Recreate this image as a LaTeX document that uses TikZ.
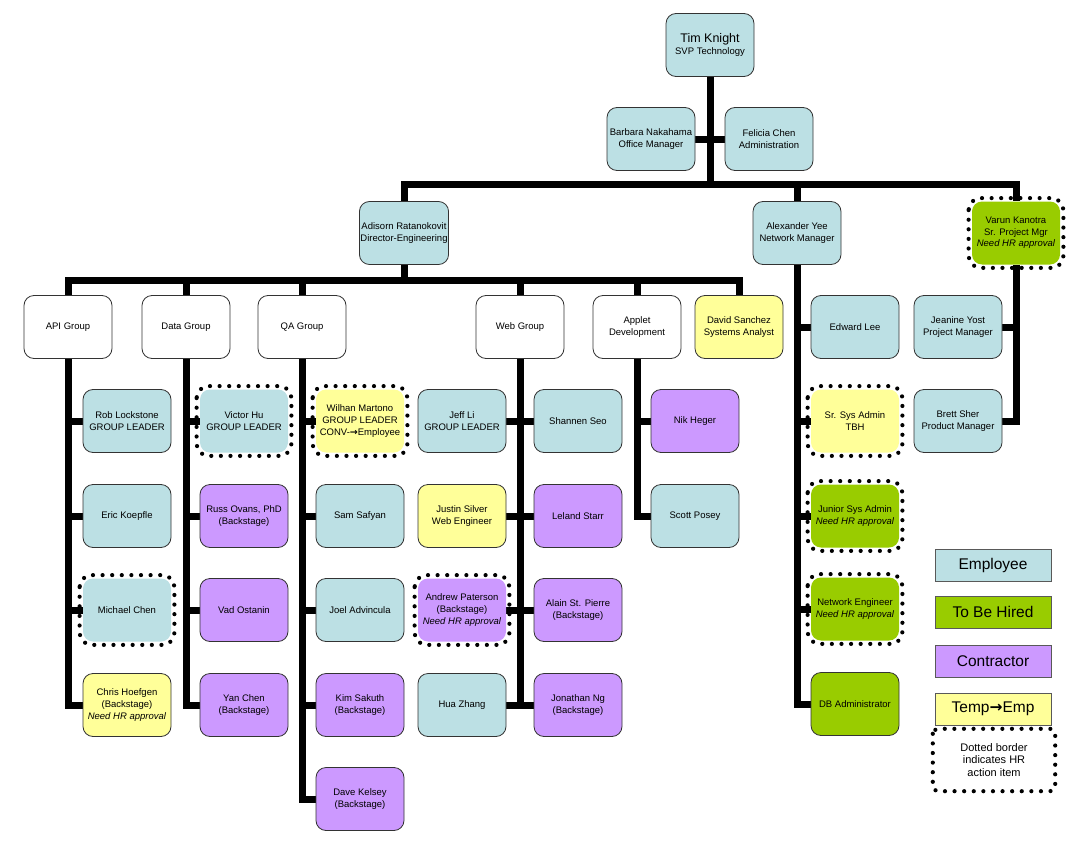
\documentclass[tikz,border=0pt]{standalone}
\usepackage{fontspec}
\setmainfont{Liberation Sans}
\newfontfamily\arrowfont{DejaVu Sans}
\usetikzlibrary{positioning}
\pgfdeclarelayer{bg}
\pgfsetlayers{bg,main}

\definecolor{empcol}{RGB}{188,224,228}
\definecolor{hirecol}{RGB}{153,204,0}
\definecolor{concol}{RGB}{204,153,255}
\definecolor{tempcol}{RGB}{255,255,153}

\newcommand{\toarr}{{\arrowfont\textbf{→}}}

\tikzset{
  box/.style={rectangle, rounded corners=10pt, draw=black!80, line width=0.8pt,
    minimum width=88, minimum height=63, inner sep=1pt, align=center,
    font=\fontsize{9.5}{11.6}\selectfont},
  emp/.style={box, fill=empcol},
  hire/.style={box, fill=hirecol},
  con/.style={box, fill=concol},
  tmp/.style={box, fill=tempcol},
  grp/.style={box, fill=white},
  hr/.style={draw=none},
  hrdots/.style={line width=4.2pt, dash pattern=on 0pt off 9.6pt, line cap=round, rounded corners=12pt},
  bar/.style={line width=7pt},
  legbox/.style={rectangle, draw=black!65, line width=1pt, minimum width=116, minimum height=32,
    inner sep=1pt, font=\fontsize{15.5}{18}\selectfont}
}

\begin{document}
\begin{tikzpicture}[x=1pt,y=-1pt]
\useasboundingbox (0,0) rectangle (1090,843);

% top of the tree
\node[emp] (tim) at (710,45) {{\fontsize{12.5}{15}\selectfont Tim Knight}\\SVP Technology};
\node[emp] (barbara) at (651,139) {Barbara Nakahama\\Office Manager};
\node[emp] (felicia) at (769,139) {Felicia Chen\\Administration};

\node[emp] (adisorn) at (404,233) {Adisorn Ratanokovit\\Director-Engineering};
\node[emp] (alex) at (797,233) {Alexander Yee\\Network Manager};
\node[hire,hr] (varun) at (1016,233) {Varun Kanotra\\Sr. Project Mgr\\\textit{Need HR approval}};

\coordinate (bus1) at (710,184);
\coordinate (bus2) at (404,280);

% groups
\node[grp] (apigrp) at (68,327) {API Group};
\node[grp] (datagrp) at (186,327) {Data Group};
\node[grp] (qagrp) at (302,327) {QA Group};
\node[grp] (webgrp) at (520,327) {Web Group};
\node[grp] (appletgrp) at (637,327) {Applet\\Development};
\node[tmp] (david) at (739,327) {David Sanchez\\Systems Analyst};

% API group
\node[emp] (rob) at (127,421) {Rob Lockstone\\GROUP LEADER};
\node[emp] (eric) at (127,516) {Eric Koepfle};
\node[emp,hr] (michael) at (127,610) {Michael Chen};
\node[tmp] (chris) at (127,705) {Chris Hoefgen\\(Backstage)\\\textit{Need HR approval}};

% Data group
\node[emp,hr] (victor) at (244,421) {Victor Hu\\GROUP LEADER};
\node[con] (russ) at (244,516) {Russ Ovans, PhD\\(Backstage)};
\node[con] (vad) at (244,610) {Vad Ostanin};
\node[con] (yan) at (244,705) {Yan Chen\\(Backstage)};

% QA group
\node[tmp,hr] (wilhan) at (360,421) {Wilhan Martono\\GROUP LEADER\\CONV-\toarr Employee};
\node[emp] (sam) at (360,516) {Sam Safyan};
\node[emp] (joel) at (360,610) {Joel Advincula};
\node[con] (kim) at (360,705) {Kim Sakuth\\(Backstage)};
\node[con] (dave) at (360,799) {Dave Kelsey\\(Backstage)};

% Web group
\node[emp] (jeff) at (462,421) {Jeff Li\\GROUP LEADER};
\node[emp] (shannen) at (578,421) {Shannen Seo};
\node[tmp] (justin) at (462,516) {Justin Silver\\Web Engineer};
\node[con] (leland) at (578,516) {Leland Starr};
\node[con,hr] (andrew) at (462,610) {Andrew Paterson\\(Backstage)\\\textit{Need HR approval}};
\node[con] (alain) at (578,610) {Alain St. Pierre\\(Backstage)};
\node[emp] (hua) at (462,705) {Hua Zhang};
\node[con] (jonathan) at (578,705) {Jonathan Ng\\(Backstage)};

% Applet
\node[con] (nik) at (695,421) {Nik Heger};
\node[emp] (scott) at (695,516) {Scott Posey};

% network
\node[emp] (edward) at (855,327) {Edward Lee};
\node[tmp,hr] (srsys) at (855,421) {Sr. Sys Admin\\TBH};
\node[hire,hr] (junior) at (855,516) {Junior Sys Admin\\\textit{Need HR approval}};
\node[hire,hr] (neteng) at (855,609) {Network Engineer\\\textit{Need HR approval}};
\node[hire] (dbadmin) at (855,704) {DB Administrator};

% projects
\node[emp] (jeanine) at (958,327) {Jeanine Yost\\Project Manager};
\node[emp] (brett) at (958,421) {Brett Sher\\Product Manager};

% HR dots
\foreach \n in {varun,michael,victor,wilhan,andrew,srsys,junior,neteng}
  \draw[hrdots] ([shift={(-3,-3)}]\n.north west) rectangle ([shift={(3,3)}]\n.south east);

% legend
\node[legbox, fill=empcol] (legemp) at (993,565) {Employee};
\node[legbox, fill=hirecol] (leghire) at (993,612) {To Be Hired};
\node[legbox, fill=concol] (legcon) at (993,661) {Contractor};
\node[legbox, fill=tempcol] (legtemp) at (993,709) {Temp\toarr Emp};
\node[minimum width=122, minimum height=62, align=center, inner sep=1pt,
  font=\fontsize{11}{12.5}\selectfont] (legdot) at (994,760) {Dotted border\\indicates HR\\action item};
\draw[hrdots, rounded corners=5pt] (legdot.north west) rectangle (legdot.south east);

\begin{pgfonlayer}{bg}
  \draw[bar] (tim.south) -- (bus1);
  \draw[bar] (barbara.east) -- (felicia.west);
  \draw[bar] (adisorn.north) |- (bus1) -| (varun.north);
  \draw[bar] (alex.north) -- (alex.north |- bus1);
  \draw[bar] (adisorn.south) -- (bus2);
  \draw[bar] (apigrp.north) |- (bus2) -| (david.north);
  \foreach \g in {datagrp,qagrp,webgrp,appletgrp}
    \draw[bar] (\g.north) -- (\g.north |- bus2);
  % columns
  \draw[bar] (apigrp.south) |- (chris.west);
  \foreach \n in {rob,eric,michael}
    \draw[bar] (\n.west) -- (\n.west -| apigrp.south);
  \draw[bar] (datagrp.south) |- (yan.west);
  \foreach \n in {victor,russ,vad}
    \draw[bar] (\n.west) -- (\n.west -| datagrp.south);
  \draw[bar] (qagrp.south) |- (dave.west);
  \foreach \n in {wilhan,sam,joel,kim}
    \draw[bar] (\n.west) -- (\n.west -| qagrp.south);
  \draw[bar] (webgrp.south) -- (webgrp.south |- hua.east);
  \draw[bar] (jeff.east) -- (shannen.west);
  \draw[bar] (justin.east) -- (leland.west);
  \draw[bar] (andrew.east) -- (alain.west);
  \draw[bar] (hua.east) -- (jonathan.west);
  \draw[bar] (appletgrp.south) |- (scott.west);
  \draw[bar] (nik.west) -- (nik.west -| appletgrp.south);
  \draw[bar] (alex.south) |- (dbadmin.west);
  \foreach \n in {edward,srsys,junior,neteng}
    \draw[bar] (\n.west) -- (\n.west -| alex.south);
  \draw[bar] (varun.south) |- (brett.east);
  \draw[bar] (jeanine.east) -- (jeanine.east -| varun.south);
\end{pgfonlayer}
\end{tikzpicture}
\end{document}
